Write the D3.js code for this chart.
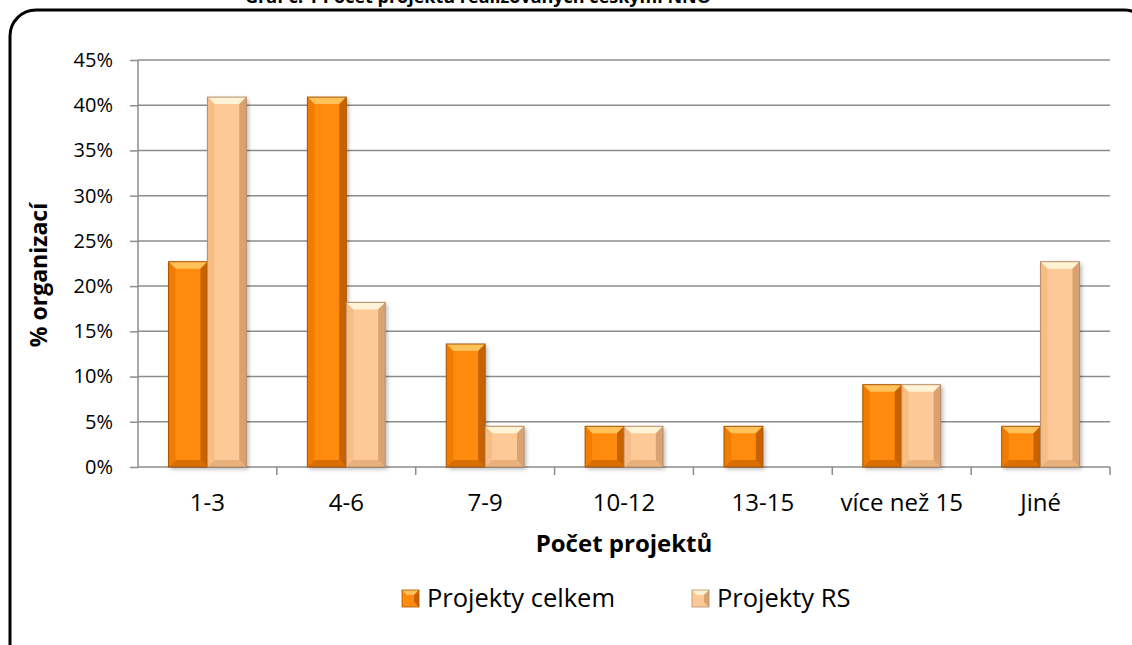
<!DOCTYPE html>
<html>
<head>
<meta charset="utf-8">
<script src="https://cdn.jsdelivr.net/npm/d3@7"></script>
<style>
  body { margin: 0; background: #fff; }
  svg { display: block; font-family: "Open Sans", Lato, sans-serif; }
</style>
</head>
<body>
<svg id="chart" width="1132" height="645"></svg>
<script>
var categories = ["1-3", "4-6", "7-9", "10-12", "13-15", "více než 15", "Jiné"];
var celkem = [22.7, 40.9, 13.6, 4.5, 4.5, 9.1, 4.5];
var rs = [40.9, 18.2, 4.5, 4.5, 0, 9.1, 22.7];
var seriesNames = ["Projekty celkem", "Projekty RS"];
var yTicks = [0, 5, 10, 15, 20, 25, 30, 35, 40, 45];

var svg = d3.select("#chart");
var margin = { top: 60, left: 138, right: 22, bottom: 178 };
var width = 1132 - margin.left - margin.right;
var height = 645 - margin.top - margin.bottom;

var palette = [
  { main: "#ff8a0c", top: "#ffc15a", bottom: "#d96f00", left: "#f07c00", right: "#c86200", stroke: "#a85400" },
  { main: "#fdc996", top: "#fff3d6", bottom: "#e8b07a", left: "#f7bd85", right: "#d9a270", stroke: "#b88c66" }
];

// frame + title (title is clipped by the top edge, as in the source)
svg.append("text").attr("x", 478).attr("y", 3).attr("text-anchor", "middle")
  .style("font-weight", "bold").style("font-size", "18px")
  .text("Graf č. 1 Počet projektů realizovaných českými NNO");
svg.append("rect").attr("x", 10).attr("y", 10).attr("width", 1140).attr("height", 660)
  .attr("rx", 26).attr("ry", 26).attr("fill", "none").attr("stroke", "#000").attr("stroke-width", 3);

var g = svg.append("g").attr("transform", "translate(" + margin.left + "," + margin.top + ")");

var x0 = d3.scaleBand().domain(categories).range([0, width]).paddingInner(0).paddingOuter(0);
var x1 = d3.scaleBand().domain([0, 1]).range([x0.bandwidth() * 0.22, x0.bandwidth() * 0.78]).padding(0);
var y = d3.scaleLinear().domain([0, 45]).range([height, 0]);

// gridlines
g.append("g").selectAll("line").data(yTicks.slice(1)).enter().append("line")
  .attr("x1", 0).attr("x2", width).attr("y1", function(d) { return y(d); }).attr("y2", function(d) { return y(d); })
  .attr("stroke", "#8c8c8c").attr("stroke-width", 1.5);

// y axis
var yAxis = d3.axisLeft(y).tickValues(yTicks).tickFormat(function(d) { return d + "%"; }).tickSize(8).tickPadding(17);
var ya = g.append("g").call(yAxis);
ya.attr("font-size", null).attr("font-family", null);
ya.select(".domain").attr("stroke", "#8c8c8c").attr("stroke-width", 1.5).attr("d", "M0," + y(45) + "V" + height);
ya.selectAll(".tick line").attr("stroke", "#8c8c8c").attr("stroke-width", 1.5);
ya.selectAll("text").style("font-size", "20px").attr("fill", "#000");

// x axis
var xa = g.append("g").attr("transform", "translate(0," + height + ")");
xa.append("line").attr("x1", 0).attr("x2", width).attr("stroke", "#8c8c8c").attr("stroke-width", 1.5);
xa.selectAll(".tk").data(categories).enter().append("line")
  .attr("x1", function(d) { return x0(d) + x0.bandwidth(); }).attr("x2", function(d) { return x0(d) + x0.bandwidth(); })
  .attr("y1", 0).attr("y2", 8).attr("stroke", "#8c8c8c").attr("stroke-width", 1.5);
xa.selectAll(".lbl").data(categories).enter().append("text")
  .attr("x", function(d) { return x0(d) + x0.bandwidth() / 2; }).attr("y", 44)
  .attr("text-anchor", "middle").style("font-size", "24px").text(function(d) { return d; });

// bars with bevel
var rows = [];
categories.forEach(function(c, i) {
  [celkem[i], rs[i]].forEach(function(v, s) { if (v > 0) rows.push({ cat: c, s: s, v: v }); });
});
var defs = svg.append("defs");
defs.append("filter").attr("id", "shadow").attr("x", "-20%").attr("y", "-20%").attr("width", "150%").attr("height", "150%")
  .append("feDropShadow").attr("dx", 2).attr("dy", 2).attr("stdDeviation", 2).attr("flood-color", "#000").attr("flood-opacity", 0.3);

var bars = g.append("g").selectAll("g").data(rows).enter().append("g");
bars.each(function(d) {
  var el = d3.select(this), p = palette[d.s];
  var xl = x0(d.cat) + x1(d.s), xr = xl + x1.bandwidth(), yt = y(d.v), yb = y(0);
  var b = Math.min(7, (yb - yt) / 2);
  el.append("rect").attr("x", xl).attr("y", yt).attr("width", xr - xl).attr("height", yb - yt)
    .attr("fill", p.main).attr("filter", "url(#shadow)");
  function poly(pts, fill) {
    el.append("polygon").attr("points", pts.map(function(q) { return q.join(","); }).join(" ")).attr("fill", fill);
  }
  poly([[xl, yt], [xr, yt], [xr - b, yt + b], [xl + b, yt + b]], p.top);
  poly([[xl, yb], [xr, yb], [xr - b, yb - b], [xl + b, yb - b]], p.bottom);
  poly([[xl, yt], [xl + b, yt + b], [xl + b, yb - b], [xl, yb]], p.left);
  poly([[xr, yt], [xr - b, yt + b], [xr - b, yb - b], [xr, yb]], p.right);
  el.append("rect").attr("x", xl).attr("y", yt).attr("width", xr - xl).attr("height", yb - yt)
    .attr("fill", "none").attr("stroke", p.stroke).attr("stroke-width", 1);
});

// axis titles
svg.append("text").attr("transform", "translate(47,275) rotate(-90)")
  .attr("text-anchor", "middle").style("font-weight", "bold").style("font-size", "23px").text("% organizací");
svg.append("text").attr("x", 624).attr("y", 552)
  .attr("text-anchor", "middle").style("font-weight", "bold").style("font-size", "24px").text("Počet projektů");

// legend
var legendX = [402, 692];
var lg = svg.append("g").selectAll("g").data(seriesNames).enter().append("g")
  .attr("transform", function(d, i) { return "translate(" + legendX[i] + ",590)"; });
lg.each(function(d, i) {
  var el = d3.select(this), p = palette[i], s = 17, b = 5;
  el.append("rect").attr("width", s).attr("height", s).attr("fill", p.main);
  el.append("polygon").attr("points", "0,0 " + s + ",0 " + (s - b) + "," + b + " " + b + "," + b).attr("fill", p.top);
  el.append("polygon").attr("points", s + ",0 " + s + "," + s + " " + (s - b) + "," + (s - b) + " " + (s - b) + "," + b).attr("fill", p.right);
  el.append("rect").attr("width", s).attr("height", s).attr("fill", "none").attr("stroke", p.stroke).attr("stroke-width", 0.8);
  el.append("text").attr("x", 25).attr("y", 17).style("font-size", "25.5px").text(d);
});
</script>
</body>
</html>
